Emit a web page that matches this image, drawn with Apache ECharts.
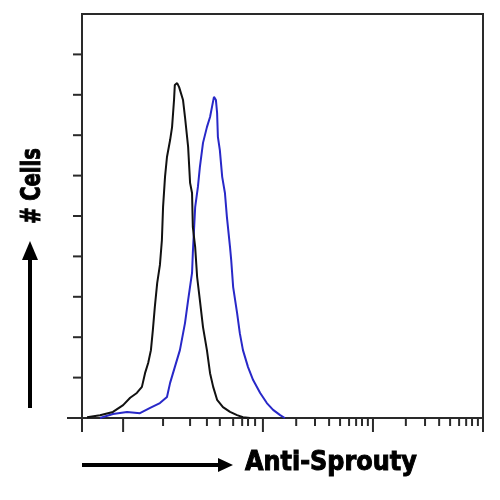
<!DOCTYPE html>
<html><head><meta charset="utf-8">
<script src="https://cdn.jsdelivr.net/npm/echarts@6/dist/echarts.min.js"></script>
<style>html,body{margin:0;padding:0;background:#fff}#c{width:500px;height:500px}</style>
</head><body><div id="c"></div>
<script>
// x in channel units (0-1024), y in relative cell count (0-100)
var blackX = [13,46,79,105,123,140,153,161,169,176,181,186,192,199,204,207,212,217,225,230,235,237,243,248,253,258,263,271,276,281,283,289,294,301,309,319,327,335,345,360,378,396,411,429];
var blackY = [0.2,0.7,1.5,3.2,5,6.2,7.7,11.1,13.6,16.8,21.8,27.5,33.4,37.9,44,52.2,59.7,64.6,68.8,72,78.7,82.4,82.9,81.9,81.7,78.7,74.5,67.1,58.2,55.7,47.3,42.3,34.9,29.2,22.5,16.8,11.1,7.7,4.5,2.7,1.5,0.7,0.2,0];
var blueX = [46,79,115,148,174,199,217,225,237,250,263,271,281,283,289,296,301,309,319,327,332,337,342,345,347,352,358,365,370,378,381,386,396,403,411,424,437,455,472,488,506,518];
var blueY = [0,1,1.5,1.2,2.5,3.7,5.2,8.7,12.6,16.8,23.5,29.2,35.9,40.8,52.2,57.2,62.1,68.1,72,74.5,77,79.5,78.7,75.5,69.6,66.3,59.7,55.7,49.8,42.3,39.1,32.4,26,21,16.8,12.6,9.4,6.2,3.7,2,0.7,0];
var xTicks = [0,105,207,276,319,352,386,409,424,442,462,547,595,631,659,682,700,715,730,743,827,876,912,940,963,981,996,1011,1024];
var xTickLong = [1,1,0,0,0,0,0,0,0,0,1,0,0,0,0,0,0,0,0,1,0,0,0,0,0,0,0,0,1];
var yTicks = [0,10,20,30,40,50,60,70,80,90];
var xTitle = 'Anti-Sprouty';
var yTitle = '# Cells';

var chart = echarts.init(document.getElementById('c'), null, {renderer:'canvas'});
function pairs(xs, ys){ return xs.map(function(x,i){return [x, ys[i]];}); }
var axisColor = '#2a2a2a';
chart.setOption({
  animation:false,
  backgroundColor:'#fff',
  grid:{left:82, right:17, top:14, bottom:82, show:true, borderColor:axisColor, borderWidth:2, backgroundColor:'transparent'},
  xAxis:{type:'value', min:0, max:1024, axisLine:{show:true, lineStyle:{color:axisColor, width:2}}, axisTick:{show:false}, axisLabel:{show:false}, splitLine:{show:false}},
  yAxis:{type:'value', min:0, max:100, axisLine:{show:true, lineStyle:{color:axisColor, width:2}}, axisTick:{show:false}, axisLabel:{show:false}, splitLine:{show:false}},
  series:[
    {type:'line', data:pairs(blackX, blackY), showSymbol:false, lineStyle:{color:'#111', width:2}, z:3},
    {type:'line', data:pairs(blueX, blueY), showSymbol:false, lineStyle:{color:'#2828c8', width:2}, z:2},
    {type:'custom', clip:false, z:5, silent:true,
      data:xTicks.map(function(v,i){return [v,0,xTickLong[i]];}),
      renderItem:function(params, api){
        var p = api.coord([api.value(0), 0]);
        var len = api.value(2) ? 14 : 8;
        return {type:'line', shape:{x1:p[0], y1:p[1], x2:p[0], y2:p[1]+len}, style:{stroke:axisColor, lineWidth:2}};
      }},
    {type:'custom', clip:false, z:5, silent:true,
      data:yTicks.map(function(v){return [0,v];}),
      renderItem:function(params, api){
        var p = api.coord([0, api.value(1)]);
        var len = api.value(1) === 0 ? 15 : 9;
        return {type:'line', shape:{x1:p[0]-len, y1:p[1], x2:p[0], y2:p[1]}, style:{stroke:axisColor, lineWidth:2}};
      }}
  ],
  graphic:[
    {type:'line', shape:{x1:82, y1:465, x2:219, y2:465}, style:{stroke:'#000', lineWidth:4}},
    {type:'polygon', shape:{points:[[218,458],[233,465],[218,472]]}, style:{fill:'#000'}},
    {type:'text', x:245, y:463, scaleX:0.92, style:{text:xTitle, font:'bold 26px "DejaVu Sans"', fill:'#000', stroke:'#000', lineWidth:1, align:'left', verticalAlign:'middle'}},
    {type:'line', shape:{x1:30, y1:408, x2:30, y2:258}, style:{stroke:'#000', lineWidth:4}},
    {type:'polygon', shape:{points:[[22,260],[30,241],[38,260]]}, style:{fill:'#000'}},
    {type:'text', x:33, y:186, rotation:Math.PI/2, scaleX:0.75, style:{text:yTitle, font:'bold 26px "DejaVu Sans"', fill:'#000', stroke:'#000', lineWidth:1, align:'center', verticalAlign:'middle'}}
  ]
});
</script></body></html>
